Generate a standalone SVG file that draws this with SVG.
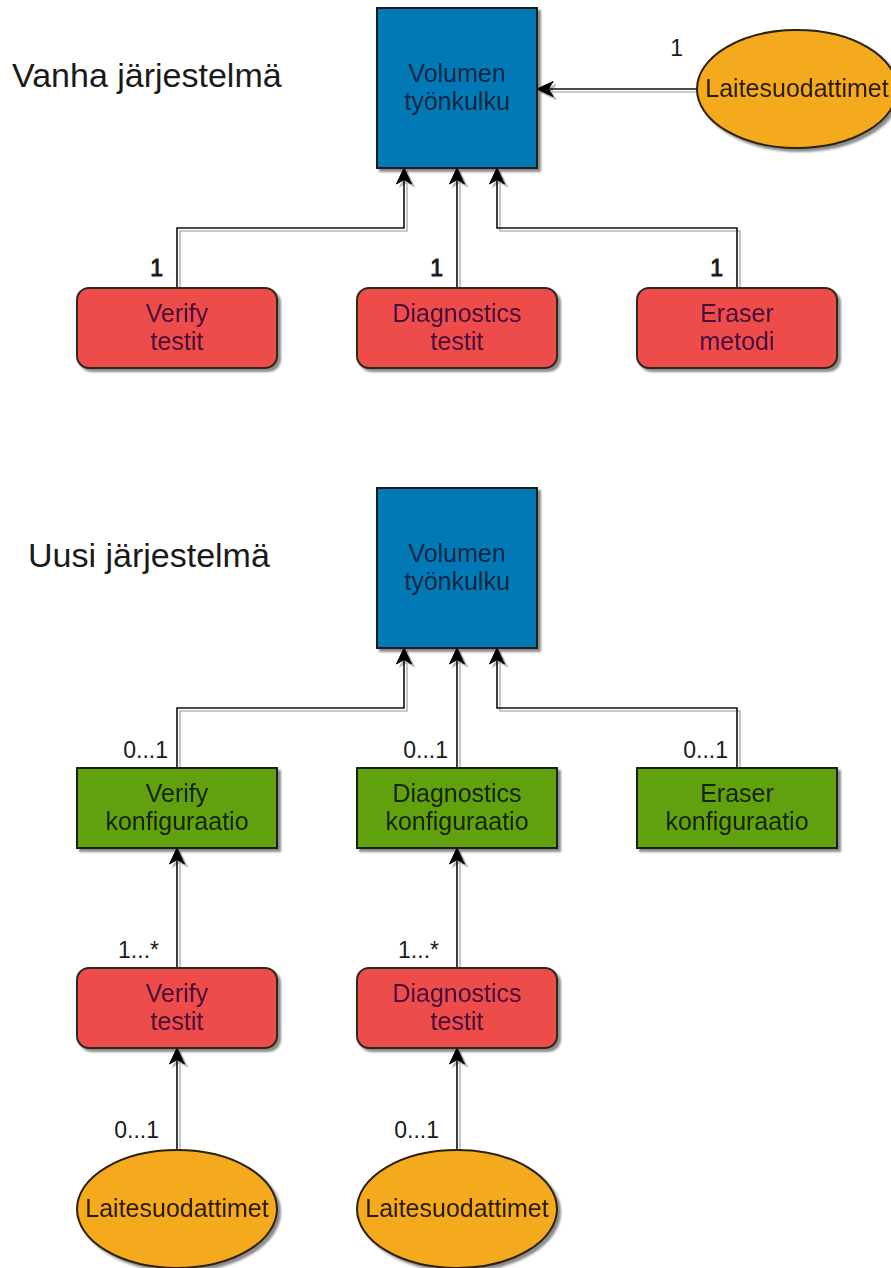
<svg xmlns="http://www.w3.org/2000/svg" width="891" height="1268" viewBox="0 0 891 1268">
<style>
text{font-family:"Liberation Sans",Arial,Helvetica,sans-serif;}
.title{font-size:34px;fill:#1a1a1a;}
.t{font-size:25px;text-anchor:middle;}
.lbl{font-size:23px;fill:#1a1a1a;text-anchor:end;}
.b{stroke:#1a1a1a;stroke-width:0.9;}
.blue{fill:#0479B6;stroke:#1a1a1a;stroke-width:2;}
.red{fill:#EE4C4C;stroke:#2a2a18;stroke-width:2;}
.green{fill:#60A10B;stroke:#1a1a1a;stroke-width:2;}
.orange{fill:#F5A91D;stroke:#2a2010;stroke-width:2;}
.tb{fill:#07263a;}
.tr{fill:#470e3a;}
.tg{fill:#142400;}
.to{fill:#2a1b00;}
.nodes{filter:url(#sh);}
.conn path{fill:none;stroke:#111;stroke-width:1.6;marker-end:url(#arr);}
</style>
<defs>
<filter id="sh" x="-10%" y="-10%" width="130%" height="130%">
<feDropShadow dx="3" dy="3" stdDeviation="1.2" flood-color="#000" flood-opacity="0.45"/>
</filter>
<filter id="lsh" x="-20%" y="-20%" width="140%" height="140%">
<feDropShadow dx="3" dy="3" stdDeviation="0.5" flood-color="#000" flood-opacity="0.28"/>
</filter>
<marker id="arr" markerUnits="userSpaceOnUse" markerWidth="20" markerHeight="20" viewBox="0 0 20 20" refX="18" refY="10" orient="auto">
<path d="M18,10 L2,2.5 L6.5,10 L2,17.5 Z" fill="#000" stroke="#000" stroke-width="1" stroke-linejoin="round"/>
</marker>
</defs>

<text class="title" x="12" y="87">Vanha järjestelmä</text>
<text class="title" x="28" y="567">Uusi järjestelmä</text>

<g class="conn" id="connectors" filter="url(#lsh)">
<path d="M177,288 V228 H404 V168"/>
<path d="M457,288 V168"/>
<path d="M737,288 V228 H497 V168"/>
<path d="M697,89 H537"/>
<path d="M177,768 V708 H404 V648"/>
<path d="M457,768 V648"/>
<path d="M737,768 V708 H497 V648"/>
<path d="M177,968 V848"/>
<path d="M457,968 V848"/>
<path d="M177,1150 V1048"/>
<path d="M457,1150 V1048"/>
</g>

<g id="labels">
<text class="lbl b" x="163" y="276">1</text>
<text class="lbl b" x="443" y="276">1</text>
<text class="lbl b" x="723" y="276">1</text>
<text class="lbl" x="683" y="56">1</text>
<text class="lbl" x="168" y="758">0...1</text>
<text class="lbl" x="448" y="758">0...1</text>
<text class="lbl" x="728" y="758">0...1</text>
<text class="lbl" x="159" y="958">1...*</text>
<text class="lbl" x="439" y="958">1...*</text>
<text class="lbl" x="159" y="1138">0...1</text>
<text class="lbl" x="439" y="1138">0...1</text>
</g>

<g id="volumen1" class="nodes">
<rect class="blue" x="377" y="8" width="160" height="160"/>
<text class="t tb" x="457" y="82">Volumen</text>
<text class="t tb" x="457" y="110">työnkulku</text>
</g>
<g id="laite1" class="nodes">
<ellipse class="orange" cx="797" cy="89" rx="100" ry="59"/>
<text class="t to" x="797" y="97">Laitesuodattimet</text>
</g>
<g id="verify1" class="nodes">
<rect class="red" x="77" y="288" width="200" height="80" rx="12"/>
<text class="t tr" x="177" y="322">Verify</text>
<text class="t tr" x="177" y="350">testit</text>
</g>
<g id="diag1" class="nodes">
<rect class="red" x="357" y="288" width="200" height="80" rx="12"/>
<text class="t tr" x="457" y="322">Diagnostics</text>
<text class="t tr" x="457" y="350">testit</text>
</g>
<g id="eraser1" class="nodes">
<rect class="red" x="637" y="288" width="200" height="80" rx="12"/>
<text class="t tr" x="737" y="322">Eraser</text>
<text class="t tr" x="737" y="350">metodi</text>
</g>

<g id="volumen2" class="nodes">
<rect class="blue" x="377" y="488" width="160" height="160"/>
<text class="t tb" x="457" y="562">Volumen</text>
<text class="t tb" x="457" y="590">työnkulku</text>
</g>
<g id="verifyconf" class="nodes">
<rect class="green" x="77" y="768" width="200" height="80"/>
<text class="t tg" x="177" y="802">Verify</text>
<text class="t tg" x="177" y="830">konfiguraatio</text>
</g>
<g id="diagconf" class="nodes">
<rect class="green" x="357" y="768" width="200" height="80"/>
<text class="t tg" x="457" y="802">Diagnostics</text>
<text class="t tg" x="457" y="830">konfiguraatio</text>
</g>
<g id="eraserconf" class="nodes">
<rect class="green" x="637" y="768" width="200" height="80"/>
<text class="t tg" x="737" y="802">Eraser</text>
<text class="t tg" x="737" y="830">konfiguraatio</text>
</g>
<g id="verify2" class="nodes">
<rect class="red" x="77" y="968" width="200" height="80" rx="12"/>
<text class="t tr" x="177" y="1002">Verify</text>
<text class="t tr" x="177" y="1030">testit</text>
</g>
<g id="diag2" class="nodes">
<rect class="red" x="357" y="968" width="200" height="80" rx="12"/>
<text class="t tr" x="457" y="1002">Diagnostics</text>
<text class="t tr" x="457" y="1030">testit</text>
</g>
<g id="laite2" class="nodes">
<ellipse class="orange" cx="177" cy="1209" rx="100" ry="59"/>
<text class="t to" x="177" y="1217">Laitesuodattimet</text>
</g>
<g id="laite3" class="nodes">
<ellipse class="orange" cx="457" cy="1209" rx="100" ry="59"/>
<text class="t to" x="457" y="1217">Laitesuodattimet</text>
</g>
</svg>
